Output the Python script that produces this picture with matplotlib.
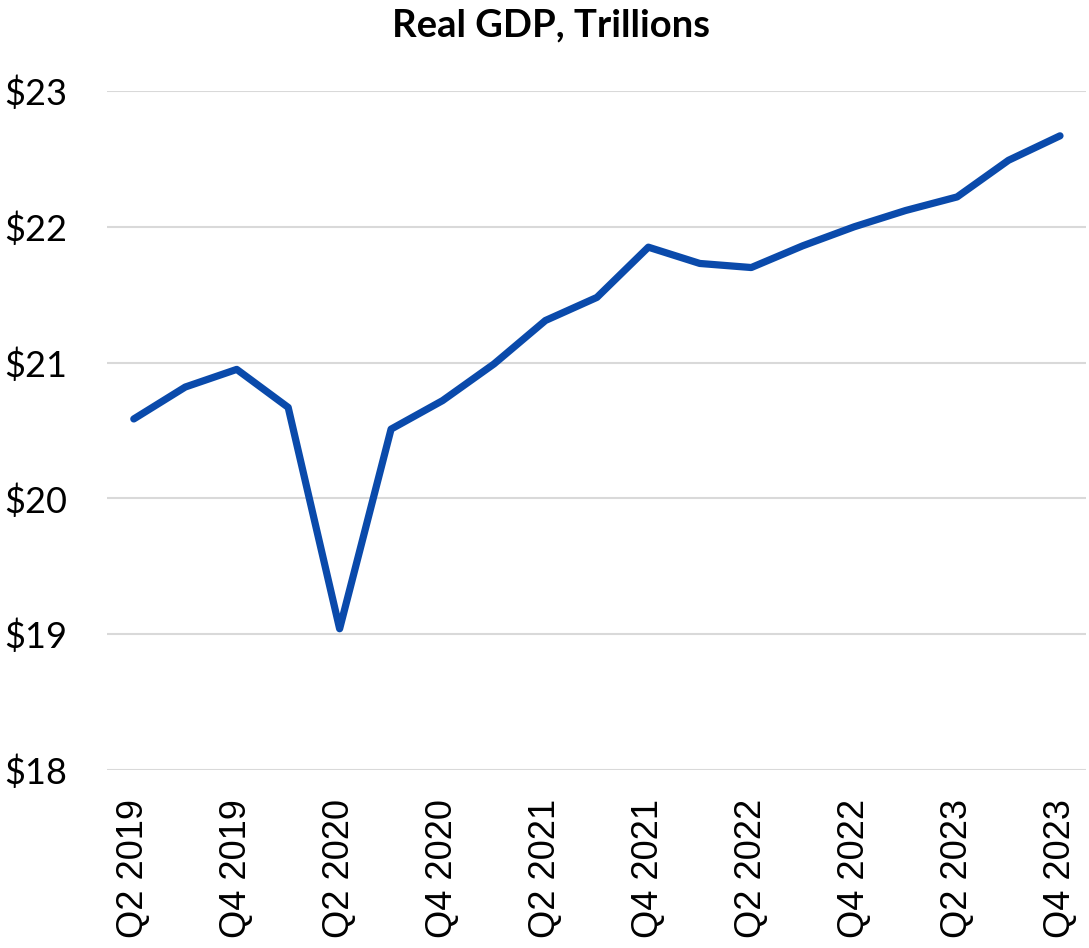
import matplotlib
matplotlib.use("Agg")
import matplotlib.pyplot as plt

# quarters from Q2 2019 to Q4 2023
quarters = ["Q2 2019", "Q3 2019", "Q4 2019", "Q1 2020", "Q2 2020", "Q3 2020",
            "Q4 2020", "Q1 2021", "Q2 2021", "Q3 2021", "Q4 2021", "Q1 2022",
            "Q2 2022", "Q3 2022", "Q4 2022", "Q1 2023", "Q2 2023", "Q3 2023",
            "Q4 2023"]
gdp = [20.585, 20.82, 20.95, 20.67, 19.04, 20.51, 20.72, 20.99, 21.31, 21.48,
       21.85, 21.73, 21.70, 21.86, 22.00, 22.12, 22.22, 22.49, 22.67]
yticks = [18, 19, 20, 21, 22, 23]

fig = plt.figure(figsize=(10.89, 9.48), dpi=100)
ax = fig.add_axes([0.0983, 0.1878, 0.8987, 0.7162])

x = list(range(len(quarters)))
ax.plot(x, gdp, color="#0a4aab", lw=5.2, solid_joinstyle="round", solid_capstyle="round", zorder=3)

ax.set_xlim(-0.52, 18.5)
ax.set_ylim(18, 23)
ax.set_yticks(yticks)
ax.set_yticklabels(["$%d" % v for v in yticks], fontfamily="Lato", fontsize=26)
ax.set_xticks(x[::2])
ax.set_xticklabels(quarters[::2], rotation=90, fontfamily="Liberation Sans", fontsize=26,
                   va="top", ha="center")
ax.tick_params(axis="both", length=0)
ax.tick_params(axis="y", pad=29)
ax.tick_params(axis="x", pad=21)
ax.grid(axis="y", color="#d9d9d9", lw=1.5, zorder=0)
for s in ax.spines.values():
    s.set_visible(False)

fig.text(0.506, 0.973, "Real GDP, Trillions", ha="center", va="center",
         fontfamily="Lato", fontweight="bold", fontsize=27.5)

fig.savefig("out.png", dpi=100)
